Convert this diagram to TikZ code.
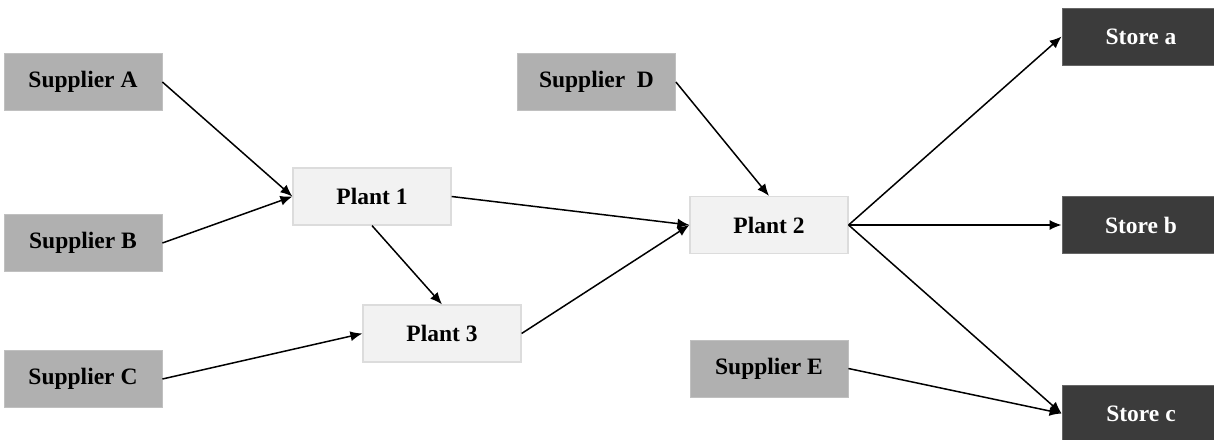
\documentclass[tikz,border=0pt]{standalone}
\usepackage{fontspec}
\setmainfont{Liberation Serif}
\usepackage{tikz}
\usetikzlibrary{positioning,arrows.meta}
\usepackage{xcolor}
\definecolor{supgray}{HTML}{B0B0B0}
\definecolor{plantgray}{HTML}{F2F2F2}
\definecolor{plantline}{HTML}{DCDCDC}
\definecolor{storegray}{HTML}{3B3B3B}

\begin{document}
\begin{tikzpicture}[
          x=1pt, y=-1pt,
          every node/.style={font=\fontsize{23.5}{26}\selectfont\bfseries},
          box/.style={rectangle,minimum width=158pt,minimum height=57pt,inner sep=0pt},
          sup/.style={box,fill=supgray,draw=supgray!80!white,line width=0.8pt},
          plant/.style={box,fill=plantgray,draw=plantline,line width=1.2pt},
          store/.style={box,fill=storegray,draw=gray!80!black,line width=0.8pt,text=white},
          flow/.style={line width=1.5pt,-{Latex[length=12pt,width=10pt]}},
        ]
        \useasboundingbox[fill=white] (0,0) rectangle (1214,439);
        \node[sup] (sa) at (83,82) {Supplier A};
        \node[sup] (sb) at (83,243) {Supplier B};
        \node[sup] (sc) at (83,379) {Supplier C};
        \node[sup] (sd) at (596.5,82) {Supplier\ \ D};
        \node[sup] (se) at (769,368.5) {Supplier E};
        \node[plant] (p1) at (372,196.5) {Plant 1};
        \node[plant] (p3) at (442,333.5) {Plant 3};
        \node[plant] (p2) at (769,225) {Plant 2};
        \foreach \s/\yy in {a/36.5,b/225,c/413.5} {
          \node[store] (st\s) at (1141,\yy) {Store \s};
        }
        \draw[flow] (sa.east) -- (p1.west);
        \draw[flow] (sb.east) -- (p1.west);
        \draw[flow] (p1.south) -- (p3.north);
        \draw[flow] (sc.east) -- (p3.west);
        \draw[flow] (p1.east) -- (p2.west);
        \draw[flow] (p3.east) -- (p2.west);
        \draw[flow] (sd.east) -- (p2.north);
        \foreach \s in {a,b,c} {
          \draw[flow] (p2.east) -- (st\s.west);
        }
        \draw[flow] (se.east) -- (stc.west);
      \end{tikzpicture}
\end{document}
